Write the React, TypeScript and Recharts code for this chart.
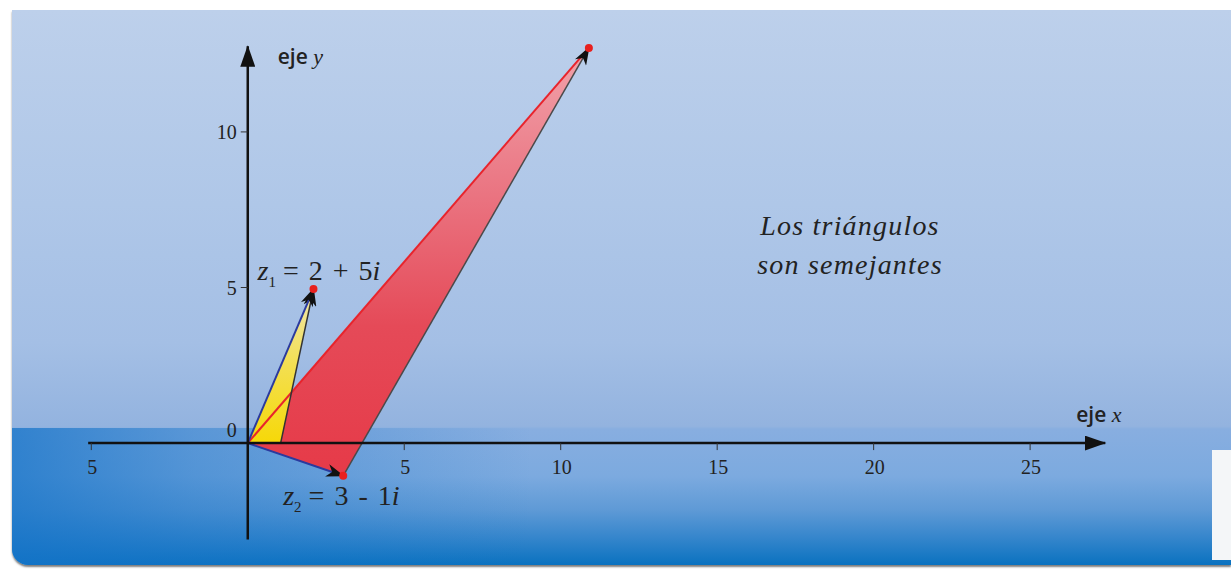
import { ComposedChart, Scatter, XAxis, YAxis } from "recharts";

// vertices in the complex plane
const origin = { x: 0, y: 0 };
const unitPoint = { x: 1.05, y: 0 };
const z1 = { x: 2.1, y: 4.95 };
const z2 = { x: 3.05, y: -1.05 };
const product = { x: 10.9, y: 12.7 };

const redTriangle = [origin, z2, product];
const yellowTriangle = [origin, unitPoint, z1];
const redPoints = [z1, z2, product];

const xAxisLine = [{ x: -5.1, y: 0 }, { x: 27.4, y: 0 }];
const yAxisLine = [{ x: 0, y: -3.1 }, { x: 0, y: 12.75 }];

const xTicks = [-5, 5, 10, 15, 20, 25];
const xTickLabels = ["5", "5", "10", "15", "20", "25"];
const yTicks = [0, 5, 10];
const yTickLabels = ["0", "5", "10"];

const xTickData = xTicks.map((v, i) => ({ x: v, y: 0, label: xTickLabels[i] }));
const yTickData = yTicks.map((v, i) => ({ x: 0, y: v, label: yTickLabels[i] }));

const SERIF = "'Liberation Serif', 'DejaVu Serif', serif";
const SANS = "'Open Sans', Lato, 'Noto Sans', sans-serif";

const none = () => <g />;

const polygon = (fill: string) => (p: any) => (
  <polygon points={p.points.map((pt: any) => `${pt.x},${pt.y}`).join(" ")} fill={fill} />
);

const segment = (stroke: string, width: number, marker?: string) => (p: any) => (
  <path
    d={`M${p.points[0].x},${p.points[0].y} L${p.points[1].x},${p.points[1].y}`}
    stroke={stroke}
    strokeWidth={width}
    fill="none"
    markerEnd={marker ? `url(#${marker})` : undefined}
  />
);

const XTick = (props: any) => {
  const { cx, cy, payload } = props;
  return (
    <g>
      <line x1={cx} y1={cy} x2={cx} y2={cy + 7} stroke="#333" strokeWidth={1} />
      <text x={cx + 1} y={cy + 31} textAnchor="middle" fontFamily={SERIF} fontSize={20} fill="#222">
        {payload.label}
      </text>
    </g>
  );
};

const YTick = (props: any) => {
  const { cx, cy, payload } = props;
  const isZero = payload.y === 0;
  return (
    <g>
      {!isZero && <line x1={cx - 7} y1={cy} x2={cx} y2={cy} stroke="#333" strokeWidth={1} />}
      <text
        x={cx - 11}
        y={cy + (isZero ? -6 : 7)}
        textAnchor="end"
        fontFamily={SERIF}
        fontSize={20}
        fill="#222"
      >
        {payload.label}
      </text>
    </g>
  );
};

const RedDot = (props: any) => <circle cx={props.cx} cy={props.cy} r={4} fill="#e8201e" />;

const Z1Label = (props: any) => (
  <text x={props.cx - 56} y={props.cy - 9} fontFamily={SERIF} fontSize={28} fill="#222">
    <tspan fontStyle="italic">z</tspan>
    <tspan fontSize={15} dy={7}>1</tspan>
    <tspan dy={-7} dx={7}>=</tspan>
    <tspan dx={10}>2</tspan>
    <tspan dx={10}>+</tspan>
    <tspan dx={10}>5</tspan>
    <tspan fontStyle="italic">i</tspan>
  </text>
);

const Z2Label = (props: any) => (
  <text x={props.cx - 60} y={props.cy + 29} fontFamily={SERIF} fontSize={28} fill="#222">
    <tspan fontStyle="italic">z</tspan>
    <tspan fontSize={15} dy={7}>2</tspan>
    <tspan dy={-7} dx={7}>=</tspan>
    <tspan dx={10}>3</tspan>
    <tspan dx={10}>-</tspan>
    <tspan dx={10}>1</tspan>
    <tspan fontStyle="italic">i</tspan>
  </text>
);

const AxisName = (name: string, dx: number, dy: number) => (props: any) => (
  <text x={props.cx + dx} y={props.cy + dy} fontFamily={SANS} fontSize={21} fontWeight={600} fill="#222">
    eje <tspan fontFamily={SERIF} fontStyle="italic" fontWeight={400} fontSize={22}>{name}</tspan>
  </text>
);

export default function App() {
  return (
    <div style={{ position: "absolute", left: 0, top: 0, width: 1231, height: 569, background: "#fff", overflow: "hidden" }}>
      <div
        style={{
          position: "absolute",
          left: 12,
          top: 10,
          right: 0,
          bottom: 4,
          borderRadius: "0 0 0 16px",
          overflow: "hidden",
          background:
            "linear-gradient(180deg, #bdd0eb 0%, #afc7e8 35%, #a4bfe5 60%, #93b3df 75%, #88aee0 75.5%, #7caadf 84%, #5f9ad6 90%, #3686cc 95%, #0a72c0 100%)",
          boxShadow: "0 2px 2px rgba(40,40,40,0.6)",
        }}
      >
        <div
          style={{
            position: "absolute",
            left: 0,
            top: 418,
            width: 520,
            bottom: 0,
            background: "linear-gradient(90deg, rgba(20,115,200,0.75) 0%, rgba(20,115,200,0.4) 35%, rgba(20,115,200,0) 100%)",
          }}
        />
      </div>
      <div style={{ position: "absolute", left: 1212, top: 450, width: 19, height: 110, background: "#f4f6f8" }} />
      <svg width={0} height={0} style={{ position: "absolute" }}>
        <defs>
          <linearGradient id="redFill" x1="0" y1="0" x2="0" y2="1">
            <stop offset="0%" stopColor="#f1a3ab" />
            <stop offset="35%" stopColor="#ea7380" />
            <stop offset="65%" stopColor="#e54a58" />
            <stop offset="100%" stopColor="#e63a48" />
          </linearGradient>
          <linearGradient id="yellowFill" x1="0" y1="0" x2="0" y2="1">
            <stop offset="0%" stopColor="#efe6b0" />
            <stop offset="50%" stopColor="#f3df50" />
            <stop offset="100%" stopColor="#f6d808" />
          </linearGradient>
          <marker id="arrow" viewBox="0 0 14 10" refX="13" refY="5" markerWidth={20} markerHeight={13} markerUnits="userSpaceOnUse" orient="auto">
            <path d="M0,0 L14,5 L0,10 L4,5 z" fill="#111" />
          </marker>
          <marker id="axisArrow" viewBox="0 0 20 14" refX="19" refY="7" markerWidth={22} markerHeight={15} markerUnits="userSpaceOnUse" orient="auto">
            <path d="M0,0 L20,7 L0,14 z" fill="#111" />
          </marker>
        </defs>
      </svg>
      <div style={{ position: "absolute", left: 0, top: 0 }}>
        <ComposedChart width={1231} height={569} margin={{ top: 23, right: 107, bottom: 17, left: 60 }}>
          <XAxis type="number" dataKey="x" domain={[-6, 28]} hide allowDataOverflow />
          <YAxis type="number" dataKey="y" domain={[-3.5, 13.5]} hide allowDataOverflow />
          <Scatter data={redTriangle} dataKey="y" shape={none} line={polygon("url(#redFill)")} isAnimationActive={false} />
          <Scatter data={yellowTriangle} dataKey="y" shape={none} line={polygon("url(#yellowFill)")} isAnimationActive={false} />
          <Scatter data={[origin, product]} dataKey="y" shape={none} line={segment("#e8242c", 2)} isAnimationActive={false} />
          <Scatter data={[z2, product]} dataKey="y" shape={none} line={segment("#4a4a4a", 1.5, "arrow")} isAnimationActive={false} />
          <Scatter data={[unitPoint, z1]} dataKey="y" shape={none} line={segment("#333", 1.5, "arrow")} isAnimationActive={false} />
          <Scatter data={[origin, z1]} dataKey="y" shape={none} line={segment("#2b3a9e", 2, "arrow")} isAnimationActive={false} />
          <Scatter data={[origin, z2]} dataKey="y" shape={none} line={segment("#2b3a9e", 2, "arrow")} isAnimationActive={false} />
          <Scatter data={xAxisLine} dataKey="y" shape={none} line={segment("#111", 2.5, "axisArrow")} isAnimationActive={false} />
          <Scatter data={yAxisLine} dataKey="y" shape={none} line={segment("#111", 2.5, "axisArrow")} isAnimationActive={false} />
          <Scatter data={xTickData} dataKey="y" shape={XTick} isAnimationActive={false} />
          <Scatter data={yTickData} dataKey="y" shape={YTick} isAnimationActive={false} />
          <Scatter data={redPoints} dataKey="y" shape={RedDot} isAnimationActive={false} />
          <Scatter data={[z1]} dataKey="y" shape={Z1Label} isAnimationActive={false} />
          <Scatter data={[z2]} dataKey="y" shape={Z2Label} isAnimationActive={false} />
          <Scatter data={[xAxisLine[1]]} dataKey="y" shape={AxisName("x", -29, -21)} isAnimationActive={false} />
          <Scatter data={[yAxisLine[1]]} dataKey="y" shape={AxisName("y", 30, 18)} isAnimationActive={false} />
        </ComposedChart>
      </div>
      <div
        style={{
          position: "absolute",
          left: 700,
          top: 206,
          width: 300,
          textAlign: "center",
          fontFamily: SERIF,
          fontStyle: "italic",
          fontSize: 28,
          letterSpacing: "1.2px",
          lineHeight: "39px",
          color: "#222",
        }}
      >
        Los triángulos
        <br />
        son semejantes
      </div>
    </div>
  );
}
